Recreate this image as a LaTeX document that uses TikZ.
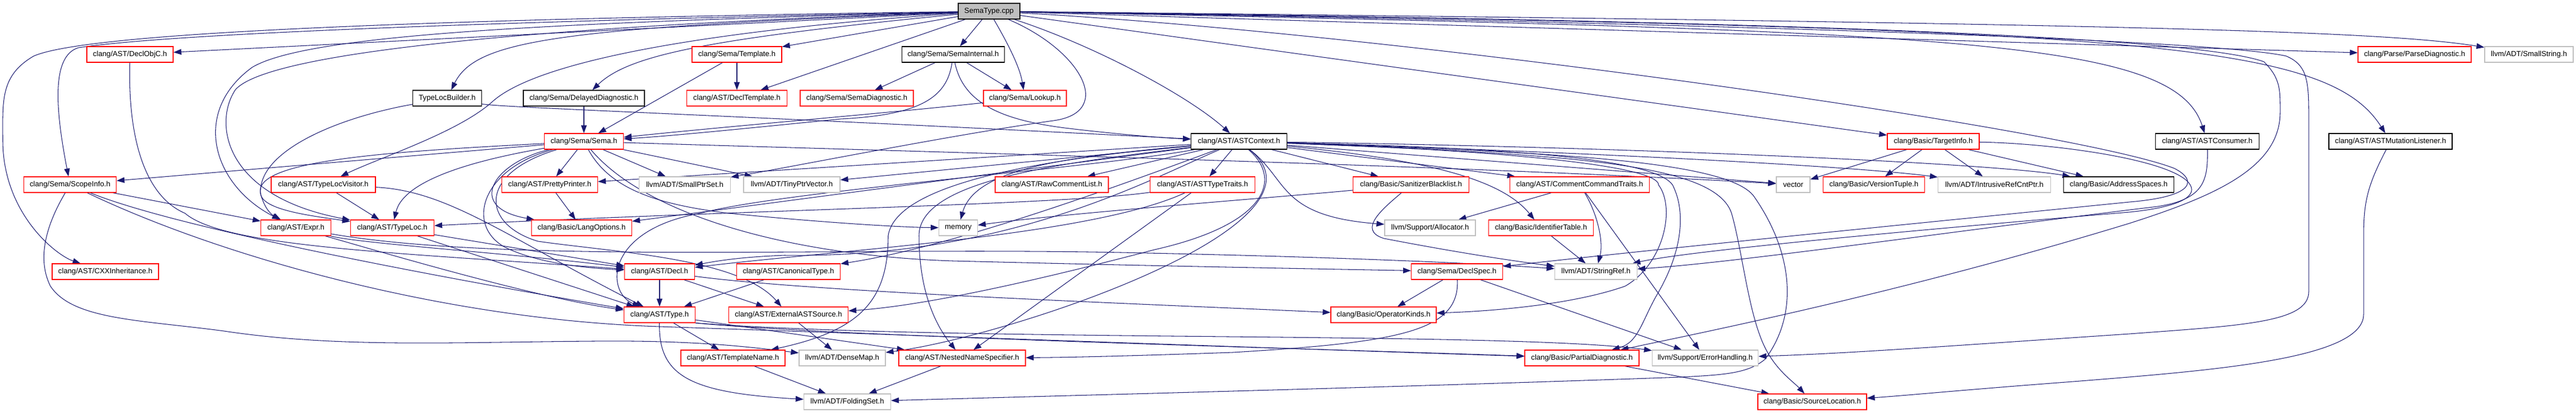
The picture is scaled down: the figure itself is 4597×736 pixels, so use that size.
\documentclass[tikz,border=0pt]{standalone}
\usepackage{fontspec}
\setmainfont{Liberation Sans}
\usetikzlibrary{arrows.meta}
\definecolor{edgeblue}{HTML}{191970}
\definecolor{nodered}{HTML}{FF0000}
\definecolor{nodegray}{HTML}{BFBFBF}
\pgfdeclarelayer{edgelayer}
\pgfsetlayers{edgelayer,main}
\tikzset{
  nbox/.style={draw, fill=white, line width=1.2pt, minimum height=28pt, inner sep=0pt,
    font=\fontsize{13.2}{15}\selectfont, text=black},
  rbox/.style={nbox, draw=nodered},
  kbox/.style={nbox, draw=black},
  gbox/.style={nbox, draw=nodegray},
  edg/.style={draw=edgeblue, line width=1.05pt, -{Triangle[length=14pt,width=10pt]}},
}
\begin{document}
\begin{tikzpicture}[x=1pt,y=-1pt]
\useasboundingbox (0,0) rectangle (4597,736);
% ---------- nodes ----------
\node[kbox, fill=nodegray, minimum width=110pt] (S) at (1765,20) {SemaType.cpp};

\node[rbox, minimum width=154pt] (declobjc) at (232,97) {clang/AST/DeclObjC.h};
\node[rbox, minimum width=160pt] (template) at (1315,97) {clang/Sema/Template.h};
\node[kbox, minimum width=183pt] (semaint) at (1701,97) {clang/Sema/SemaInternal.h};
\node[rbox, minimum width=202pt] (parsediag) at (4309,97) {clang/Parse/ParseDiagnostic.h};
\node[gbox, minimum width=158pt] (smallstring) at (4513,97) {llvm/ADT/SmallString.h};

\node[kbox, minimum width=123pt] (tlb) at (798,175) {TypeLocBuilder.h};
\node[kbox, minimum width=216pt] (delayed) at (1042,175) {clang/Sema/DelayedDiagnostic.h};
\node[rbox, minimum width=179pt] (decltemplate) at (1315,175) {clang/AST/DeclTemplate.h};
\node[rbox, minimum width=202pt] (semadiag) at (1529,175) {clang/Sema/SemaDiagnostic.h};
\node[rbox, minimum width=148pt] (lookup) at (1829,175) {clang/Sema/Lookup.h};

\node[rbox, minimum width=141pt] (sema) at (1042,252) {clang/Sema/Sema.h};
\node[kbox, minimum width=171pt] (astctx) at (2211,252) {clang/AST/ASTContext.h};
\node[rbox, minimum width=164pt] (targetinfo) at (3450,252) {clang/Basic/TargetInfo.h};
\node[kbox, minimum width=185pt] (astconsumer) at (3939,252) {clang/AST/ASTConsumer.h};
\node[kbox, minimum width=220pt] (astmut) at (4266,252) {clang/AST/ASTMutationListener.h};

\node[rbox, minimum width=165pt] (scopeinfo) at (125,329) {clang/Sema/ScopeInfo.h};
\node[rbox, minimum width=186pt] (tlv) at (577,329) {clang/AST/TypeLocVisitor.h};
\node[rbox, minimum width=171pt] (pp) at (981,329) {clang/AST/PrettyPrinter.h};
\node[gbox, minimum width=163pt] (sps) at (1222,329) {llvm/ADT/SmallPtrSet.h};
\node[gbox, minimum width=172pt] (tpv) at (1413,329) {llvm/ADT/TinyPtrVector.h};
\node[rbox, minimum width=202pt] (rcl) at (1877,329) {clang/AST/RawCommentList.h};
\node[rbox, minimum width=187pt] (att) at (2146,329) {clang/AST/ASTTypeTraits.h};
\node[rbox, minimum width=207pt] (sb) at (2518,329) {clang/Basic/SanitizerBlacklist.h};
\node[rbox, minimum width=249pt] (cct) at (2819,329) {clang/AST/CommentCommandTraits.h};
\node[gbox, minimum width=60pt] (vector) at (3200,329) {vector};
\node[rbox, minimum width=181pt] (vt) at (3344,329) {clang/Basic/VersionTuple.h};
\node[gbox, minimum width=201pt] (ircp) at (3559,329) {llvm/ADT/IntrusiveRefCntPtr.h};
\node[kbox, minimum width=197pt] (as) at (3781,329) {clang/Basic/AddressSpaces.h};

\node[rbox, minimum width=125pt] (expr) at (528,406) {clang/AST/Expr.h};
\node[rbox, minimum width=149pt] (typeloc) at (700,406) {clang/AST/TypeLoc.h};
\node[rbox, minimum width=179pt] (langopt) at (1038,406) {clang/Basic/LangOptions.h};
\node[gbox, minimum width=69pt] (memory) at (1710,406) {memory};
\node[gbox, minimum width=162pt] (alloc) at (2552,406) {llvm/Support/Allocator.h};
\node[rbox, minimum width=187pt] (idt) at (2750,406) {clang/Basic/IdentifierTable.h};

\node[rbox, minimum width=190pt] (cxx) at (188,484) {clang/AST/CXXInheritance.h};
\node[rbox, minimum width=125pt] (decl) at (1177,484) {clang/AST/Decl.h};
\node[rbox, minimum width=185pt] (ct) at (1407,484) {clang/AST/CanonicalType.h};
\node[rbox, minimum width=163pt] (declspec) at (2600,484) {clang/Sema/DeclSpec.h};
\node[gbox, minimum width=147pt] (sref) at (2848,484) {llvm/ADT/StringRef.h};

\node[rbox, minimum width=127pt] (type) at (1177,561) {clang/AST/Type.h};
\node[rbox, minimum width=213pt] (extsrc) at (1407,561) {clang/AST/ExternalASTSource.h};
\node[rbox, minimum width=188pt] (opk) at (2469,561) {clang/Basic/OperatorKinds.h};

\node[rbox, minimum width=186pt] (tn) at (1308,638) {clang/AST/TemplateName.h};
\node[gbox, minimum width=154pt] (dmap) at (1503,638) {llvm/ADT/DenseMap.h};
\node[rbox, minimum width=226pt] (nns) at (1717,638) {clang/AST/NestedNameSpecifier.h};
\node[rbox, minimum width=204pt] (pd) at (2823,638) {clang/Basic/PartialDiagnostic.h};
\node[gbox, minimum width=189pt] (eh) at (3043,638) {llvm/Support/ErrorHandling.h};

\node[gbox, minimum width=155pt] (fset) at (1512,716) {llvm/ADT/FoldingSet.h};
\node[rbox, minimum width=194pt] (sloc) at (3234,716) {clang/Basic/SourceLocation.h};

% ---------- edges ----------
\begin{pgfonlayer}{edgelayer}
% SemaType.cpp
\draw[edg] (S) -- (semaint);
\draw[edg] (S) .. controls (1800,80) and (1820,120) .. (lookup);
\draw[edg] (S) .. controls (1000,50) and (850,70) .. (tlb);
\draw[edg] (S) .. controls (1250,70) and (1120,100) .. (delayed);
\draw[edg] (S) -- (template);
\draw[edg] (S) -- (decltemplate);
\draw[edg] (S) .. controls (1950,80) and (2120,170) .. (astctx);
\draw[edg] (S) -- (targetinfo);
\draw[edg] (S) .. controls (3500,55) and (3880,70) .. (astconsumer);
\draw[edg] (S) .. controls (3800,50) and (4150,70) .. (astmut);
\draw[edg] (S) -- (parsediag);
\draw[edg] (S) .. controls (3800,42) and (4250,55) .. (smallstring);
\draw[edg] (S) -- (declobjc);
\draw[edg] (S) .. controls (800,40) and (290,62) .. (140,85) .. controls (90,100) and (100,200) .. (scopeinfo);
\draw[edg] (S) .. controls (700,35) and (150,60) .. (60,100) .. controls (0,135) and (5,180) .. (5,250) .. controls (5,380) and (100,455) .. (cxx);
\draw[edg] (S) .. controls (1250,55) and (960,110) .. (880,180) .. controls (820,235) and (680,280) .. (tlv);
\draw[edg] (S) .. controls (1000,40) and (550,60) .. (450,120) .. controls (340,200) and (380,330) .. (expr);
\draw[edg] (S) .. controls (1000,45) and (480,90) .. (420,160) .. controls (380,220) and (400,350) .. (typeloc);
\draw[edg] (S) .. controls (1930,90) and (1990,200) .. (1880,215) .. controls (1700,240) and (1400,300) .. (sps);
\draw[edg] (S) .. controls (2500,60) and (3700,230) .. (3880,300) .. controls (3920,320) and (3920,350) .. (3800,360) .. controls (3300,410) and (2900,450) .. (declspec);
\draw[edg] (S) .. controls (3000,35) and (3900,60) .. (4040,110) .. controls (4070,140) and (4069,160) .. (4069,200) .. controls (4069,300) and (3950,350) .. (3800,398) .. controls (3400,520) and (3050,590) .. (pd);
\draw[edg] (S) .. controls (3000,40) and (3950,70) .. (4080,100) .. controls (4115,115) and (4120,140) .. (4120,200) -- (4120,520) .. controls (4120,575) and (4000,580) .. (3800,595) .. controls (3500,615) and (3300,630) .. (eh);
% second level
\draw[edg] (template) -- (sema);
\draw[edg] (template) -- (decltemplate);
\draw[edg] (delayed) -- (sema);
\draw[edg] (semaint) -- (semadiag);
\draw[edg] (semaint) -- (lookup);
\draw[edg] (semaint) .. controls (1690,175) and (1640,205) .. (1500,212) .. controls (1300,232) and (1200,242) .. (sema);
\draw[edg] (semaint) .. controls (1720,190) and (1800,215) .. (1900,228) .. controls (2000,240) and (2080,246) .. (astctx);
\draw[edg] (lookup) .. controls (1600,200) and (1300,225) .. (sema);
\draw[edg] (tlb) .. controls (900,192) and (1300,205) .. (astctx);
\draw[edg] (tlb) .. controls (600,210) and (460,270) .. (465,345) .. controls (468,375) and (560,385) .. (typeloc);
\draw[edg] (declobjc) .. controls (228,250) and (260,350) .. (330,380) .. controls (400,440) and (700,450) .. (decl);
% Sema.h
\draw[edg] (sema) -- (scopeinfo);
\draw[edg] (sema) .. controls (700,270) and (450,285) .. (465,345) .. controls (470,365) and (480,380) .. (expr);
\draw[edg] (sema) .. controls (850,285) and (720,320) .. (typeloc);
\draw[edg] (sema) -- (pp);
\draw[edg] (sema) -- (sps);
\draw[edg] (sema) -- (tpv);
\draw[edg] (sema) .. controls (880,290) and (830,370) .. (langopt);
\draw[edg] (sema) .. controls (860,300) and (830,400) .. (900,440) .. controls (960,470) and (1050,478) .. (decl);
\draw[edg] (sema) .. controls (850,310) and (860,400) .. (960,430) .. controls (1100,450) and (1320,460) .. (extsrc);
\draw[edg] (sema) .. controls (1090,340) and (1180,365) .. (1300,380) .. controls (1450,395) and (1600,405) .. (memory);
\draw[edg] (sema) .. controls (1800,275) and (2600,295) .. (vector);
\draw[edg] (sema) .. controls (1150,380) and (1400,455) .. (1700,465) .. controls (2100,475) and (2400,480) .. (declspec);
% ScopeInfo.h
\draw[edg] (scopeinfo) -- (expr);
\draw[edg] (scopeinfo) .. controls (300,400) and (700,480) .. (type);
\draw[edg] (scopeinfo) .. controls (400,460) and (800,570) .. (1177,582) .. controls (1700,600) and (2400,625) .. (pd);
\draw[edg] (scopeinfo) .. controls (95,380) and (60,450) .. (90,510) .. controls (130,570) and (250,570) .. (400,590) .. controls (600,620) and (800,610) .. (1058,608) .. controls (1250,606) and (1350,620) .. (dmap);
% TypeLocVisitor, TypeLoc, Expr
\draw[edg] (tlv) -- (typeloc);
\draw[edg] (tlv) .. controls (800,340) and (900,420) .. (type);
\draw[edg] (typeloc) -- (decl);
\draw[edg] (typeloc) -- (type);
\draw[edg] (expr) .. controls (650,435) and (900,450) .. (decl);
\draw[edg] (expr) .. controls (650,440) and (950,530) .. (type);
\draw[edg] (expr) .. controls (900,470) and (1500,440) .. (2000,450) .. controls (2400,458) and (2650,470) .. (sref);
\draw[edg] (pp) -- (langopt);
% Decl, CanonicalType, Type
\draw[edg] (decl) -- (type);
\draw[edg] (decl) -- (extsrc);
\draw[edg] (decl) .. controls (1450,520) and (2000,540) .. (opk);
\draw[edg] (ct) -- (type);
\draw[edg] (type) -- (tn);
\draw[edg] (type) .. controls (1175,670) and (1230,700) .. (fset);
\draw[edg] (type) -- (nns);
\draw[edg] (type.south east) .. controls (1500,600) and (2300,620) .. (pd);
\draw[edg] (type.south east) .. controls (1700,610) and (2700,590) .. (eh);
\draw[edg] (extsrc) -- (dmap);
\draw[edg] (tn) -- (fset);
\draw[edg] (nns) -- (fset);
\draw[edg] (pd) -- (sloc);
% DeclSpec, IdentifierTable, CommentCommandTraits, SanitizerBlacklist
\draw[edg] (declspec) -- (opk);
\draw[edg] (declspec) -- (eh);
\draw[edg] (declspec) .. controls (2605,590) and (2500,610) .. (2200,628) .. controls (2000,635) and (1900,637) .. (nns);
\draw[edg] (idt) -- (sref);
\draw[edg] (cct) -- (alloc);
\draw[edg] (cct) .. controls (2850,380) and (2862,430) .. (sref);
\draw[edg] (cct) -- (eh);
\draw[edg] (sb) .. controls (2470,370) and (2420,410) .. (2470,425) .. controls (2600,450) and (2700,465) .. (sref);
\draw[edg] (sb) .. controls (2300,350) and (1900,380) .. (memory);
% ASTTypeTraits
\draw[edg] (att) .. controls (1950,420) and (1500,445) .. (decl);
\draw[edg] (att) -- (nns);
\draw[edg] (att) .. controls (1900,365) and (1300,375) .. (typeloc);
% TargetInfo, ASTConsumer, ASTMutationListener
\draw[edg] (targetinfo) -- (vector);
\draw[edg] (targetinfo) -- (vt);
\draw[edg] (targetinfo) -- (ircp);
\draw[edg] (targetinfo) -- (as);
\draw[edg] (targetinfo) .. controls (3650,255) and (3850,280) .. (3900,320) .. controls (3930,345) and (3900,368) .. (3800,378) .. controls (3300,420) and (3000,450) .. (sref);
\draw[edg] (astconsumer) .. controls (3940,320) and (3935,355) .. (3850,368) .. controls (3500,410) and (3100,468) .. (sref);
\draw[edg] (astmut) .. controls (4225,330) and (4218,360) .. (4218,420) -- (4218,560) .. controls (4218,640) and (3950,660) .. (3700,680) .. controls (3500,695) and (3400,705) .. (sloc);
% ASTContext.h
\draw[edg] (astctx) -- (att);
\draw[edg] (astctx) -- (rcl);
\draw[edg] (astctx) -- (sb);
\draw[edg] (astctx) -- (cct);
\draw[edg] (astctx) -- (vector);
\draw[edg] (astctx) .. controls (2800,270) and (3300,295) .. (ircp);
\draw[edg] (astctx) .. controls (2900,262) and (3550,290) .. (as);
\draw[edg] (astctx) .. controls (2550,285) and (2680,320) .. (idt);
\draw[edg] (astctx) .. controls (2300,320) and (2280,385) .. (alloc);
\draw[edg] (astctx) .. controls (2600,265) and (2960,290) .. (2960,330) .. controls (2990,370) and (2970,470) .. (2900,510) .. controls (2800,545) and (2650,555) .. (opk);
\draw[edg] (astctx) .. controls (2600,262) and (2950,275) .. (2985,330) .. controls (3010,380) and (3000,450) .. (2960,520) .. controls (2930,570) and (2925,610) .. (pd);
\draw[edg] (astctx) .. controls (2700,270) and (3080,280) .. (3130,350) .. controls (3200,450) and (3210,560) .. (3150,640) .. controls (3120,665) and (3080,668) .. (3000,672) .. controls (2500,690) and (1900,705) .. (fset);
\draw[edg] (astctx) .. controls (2800,275) and (3060,290) .. (3090,380) .. controls (3110,450) and (3120,560) .. (3150,620) .. controls (3170,660) and (3200,680) .. (sloc);
\draw[edg] (astctx) .. controls (2050,320) and (1800,460) .. (1400,455) .. controls (1320,458) and (1280,465) .. (decl);
\draw[edg] (astctx) .. controls (2000,330) and (1700,440) .. (ct);
\draw[edg] (astctx) .. controls (1900,290) and (1640,320) .. (1640,420) .. controls (1640,520) and (1670,580) .. (nns);
\draw[edg] (astctx) .. controls (1900,280) and (1600,320) .. (1585,420) .. controls (1585,540) and (1530,590) .. (tn);
\draw[edg] (astctx) .. controls (2290,320) and (2260,400) .. (2060,445) .. controls (1850,500) and (1650,545) .. (extsrc);
\draw[edg] (astctx) .. controls (2400,400) and (1800,600) .. (dmap);
\draw[edg] (astctx) -- (langopt);
\draw[edg] (astctx) -- (pp);
\draw[edg] (astctx) -- (tpv);
\draw[edg] (astctx) .. controls (1900,280) and (1740,300) .. (memory);
\draw[edg] (astctx) .. controls (1950,300) and (1400,340) .. (1250,380) .. controls (1080,410) and (1080,520) .. (type);
\end{pgfonlayer}
\end{tikzpicture}
\end{document}
